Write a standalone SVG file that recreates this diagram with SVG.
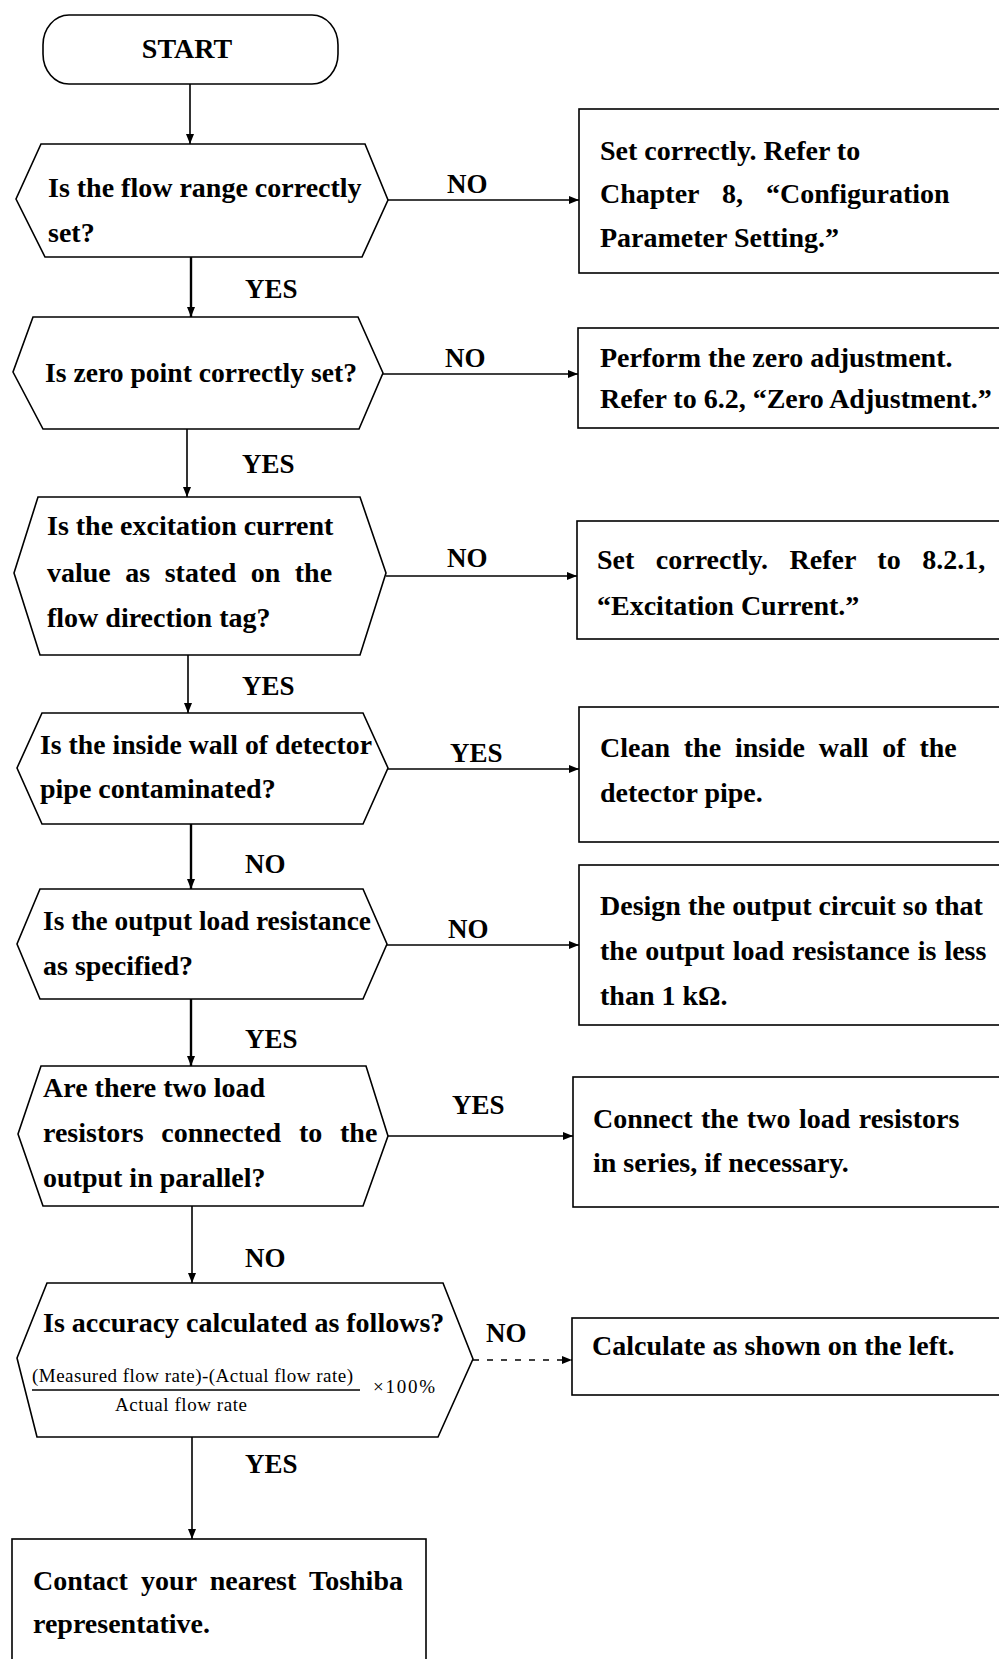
<svg xmlns="http://www.w3.org/2000/svg" width="999" height="1659" viewBox="0 0 999 1659">
<style>
  .shape{fill:#fff;stroke:#000;stroke-width:1.6}
  .t{font-family:"Liberation Serif","Times New Roman",serif;font-weight:bold;font-size:28px;fill:#000}
  .lbl{font-family:"Liberation Serif","Times New Roman",serif;font-weight:bold;font-size:27px;fill:#000}
  .f{font-family:"Liberation Serif","Times New Roman",serif;font-size:19px;fill:#000}
  .c{fill:none;stroke:#000;stroke-width:1.6}
  .thick{stroke-width:2.4}
  .dash{stroke-dasharray:6 8}
</style>
<defs>
  <marker id="ah" viewBox="0 0 10 10" refX="10" refY="5" markerWidth="10" markerHeight="10" markerUnits="userSpaceOnUse" orient="auto">
    <path d="M0,1 L10,5 L0,9 z" fill="#000"/>
  </marker>
</defs>
<rect width="999" height="1659" fill="#fff"/>

<g id="connectors">
  <path class="c" d="M190,84 V144" marker-end="url(#ah)"/>
  <path class="c thick" d="M191,257 V317" marker-end="url(#ah)"/>
  <path class="c" d="M187,429 V497" marker-end="url(#ah)"/>
  <path class="c" d="M188,655 V713" marker-end="url(#ah)"/>
  <path class="c thick" d="M191,824 V889" marker-end="url(#ah)"/>
  <path class="c thick" d="M191,999 V1066" marker-end="url(#ah)"/>
  <path class="c" d="M192,1206 V1283" marker-end="url(#ah)"/>
  <path class="c" d="M192,1437 V1539" marker-end="url(#ah)"/>
  <path class="c" d="M388,200 H579" marker-end="url(#ah)"/>
  <path class="c" d="M383,374 H578" marker-end="url(#ah)"/>
  <path class="c" d="M386,576 H577" marker-end="url(#ah)"/>
  <path class="c" d="M388,769 H579" marker-end="url(#ah)"/>
  <path class="c" d="M387,945 H579" marker-end="url(#ah)"/>
  <path class="c" d="M388,1136 H573" marker-end="url(#ah)"/>
  <path class="c dash" d="M473,1360 H572" marker-end="url(#ah)"/>
  <text class="lbl" x="447" y="193">NO</text>
  <text class="lbl" x="245" y="298">YES</text>
  <text class="lbl" x="445" y="367">NO</text>
  <text class="lbl" x="242" y="473">YES</text>
  <text class="lbl" x="447" y="567">NO</text>
  <text class="lbl" x="242" y="695">YES</text>
  <text class="lbl" x="450" y="762">YES</text>
  <text class="lbl" x="245" y="873">NO</text>
  <text class="lbl" x="448" y="938">NO</text>
  <text class="lbl" x="245" y="1048">YES</text>
  <text class="lbl" x="452" y="1114">YES</text>
  <text class="lbl" x="245" y="1267">NO</text>
  <text class="lbl" x="486" y="1342">NO</text>
  <text class="lbl" x="245" y="1473">YES</text>
</g>

<g id="start">
  <rect class="shape" x="43" y="15" width="295" height="69" rx="26" ry="30"/>
  <text class="t" x="187" y="58" text-anchor="middle">START</text>
</g>

<g id="d1">
  <polygon class="shape" points="41,144 365,144 388,200 362,257 45,257 16,199"/>
  <text class="t" x="48" y="197">Is the flow range correctly</text>
  <text class="t" x="48" y="242">set?</text>
</g>

<g id="b1">
  <rect class="shape" x="579" y="109" width="430" height="164"/>
  <text class="t" x="600" y="160">Set correctly. Refer to</text>
  <text class="t" x="600" y="203" word-spacing="16">Chapter 8, “Configuration</text>
  <text class="t" x="600" y="247">Parameter Setting.”</text>
</g>

<g id="d2">
  <polygon class="shape" points="33,317 358,317 383,373 359,429 43,429 13,372"/>
  <text class="t" x="45" y="382" textLength="312" lengthAdjust="spacingAndGlyphs">Is zero point correctly set?</text>
</g>

<g id="b2">
  <rect class="shape" x="578" y="328" width="430" height="100"/>
  <text class="t" x="600" y="367">Perform the zero adjustment.</text>
  <text class="t" x="600" y="408">Refer to 6.2, “Zero Adjustment.”</text>
</g>

<g id="d3">
  <polygon class="shape" points="38,497 360,497 386,573 360,655 40,655 14,573"/>
  <text class="t" x="47" y="535">Is the excitation current</text>
  <text class="t" x="47" y="582" word-spacing="7.5">value as stated on the</text>
  <text class="t" x="47" y="627">flow direction tag?</text>
</g>

<g id="b3">
  <rect class="shape" x="577" y="521" width="430" height="118"/>
  <text class="t" x="597" y="569" word-spacing="14.5">Set correctly. Refer to 8.2.1,</text>
  <text class="t" x="597" y="615">“Excitation Current.”</text>
</g>

<g id="d4">
  <polygon class="shape" points="42,713 363,713 388,768 363,824 42,824 17,768"/>
  <text class="t" x="40" y="754" textLength="332" lengthAdjust="spacingAndGlyphs">Is the inside wall of detector</text>
  <text class="t" x="40" y="798">pipe contaminated?</text>
</g>

<g id="b4">
  <rect class="shape" x="579" y="707" width="430" height="135"/>
  <text class="t" x="600" y="757" word-spacing="6.8">Clean the inside wall of the</text>
  <text class="t" x="600" y="802">detector pipe.</text>
</g>

<g id="d5">
  <polygon class="shape" points="40,889 363,889 387,944 363,999 40,999 17,944"/>
  <text class="t" x="43" y="930" textLength="328" lengthAdjust="spacingAndGlyphs">Is the output load resistance</text>
  <text class="t" x="43" y="975">as specified?</text>
</g>

<g id="b5">
  <rect class="shape" x="579" y="865" width="430" height="160"/>
  <text class="t" x="600" y="915">Design the output circuit so that</text>
  <text class="t" x="600" y="960" word-spacing="1">the output load resistance is less</text>
  <text class="t" x="600" y="1005">than 1 kΩ.</text>
</g>

<g id="d6">
  <polygon class="shape" points="41,1066 366,1066 388,1136 363,1206 43,1206 18,1134"/>
  <text class="t" x="43" y="1097">Are there two load</text>
  <text class="t" x="43" y="1142" word-spacing="10.8">resistors connected to the</text>
  <text class="t" x="43" y="1187">output in parallel?</text>
</g>

<g id="b6">
  <rect class="shape" x="573" y="1077" width="436" height="130"/>
  <text class="t" x="593" y="1128" word-spacing="1.5">Connect the two load resistors</text>
  <text class="t" x="593" y="1172">in series, if necessary.</text>
</g>

<g id="d7">
  <polygon class="shape" points="47,1283 443,1283 473,1359 438,1437 37,1437 17,1358"/>
  <text class="t" x="43" y="1332">Is accuracy calculated as follows?</text>
  <text class="f" x="32" y="1382" textLength="321" lengthAdjust="spacing">(Measured flow rate)-(Actual flow rate)</text>
  <line x1="32" y1="1390" x2="360" y2="1390" stroke="#000" stroke-width="1.3"/>
  <text class="f" x="115" y="1411" textLength="132" lengthAdjust="spacing">Actual flow rate</text>
  <text class="f" x="373" y="1393" font-size="19" textLength="62" lengthAdjust="spacing">×100%</text>
</g>

<g id="b7">
  <rect class="shape" x="572" y="1318" width="437" height="77"/>
  <text class="t" x="592" y="1355">Calculate as shown on the left.</text>
</g>

<g id="b8">
  <rect class="shape" x="12" y="1539" width="414" height="140"/>
  <text class="t" x="33" y="1590" word-spacing="6.2">Contact your nearest Toshiba</text>
  <text class="t" x="33" y="1633">representative.</text>
</g>
</svg>
